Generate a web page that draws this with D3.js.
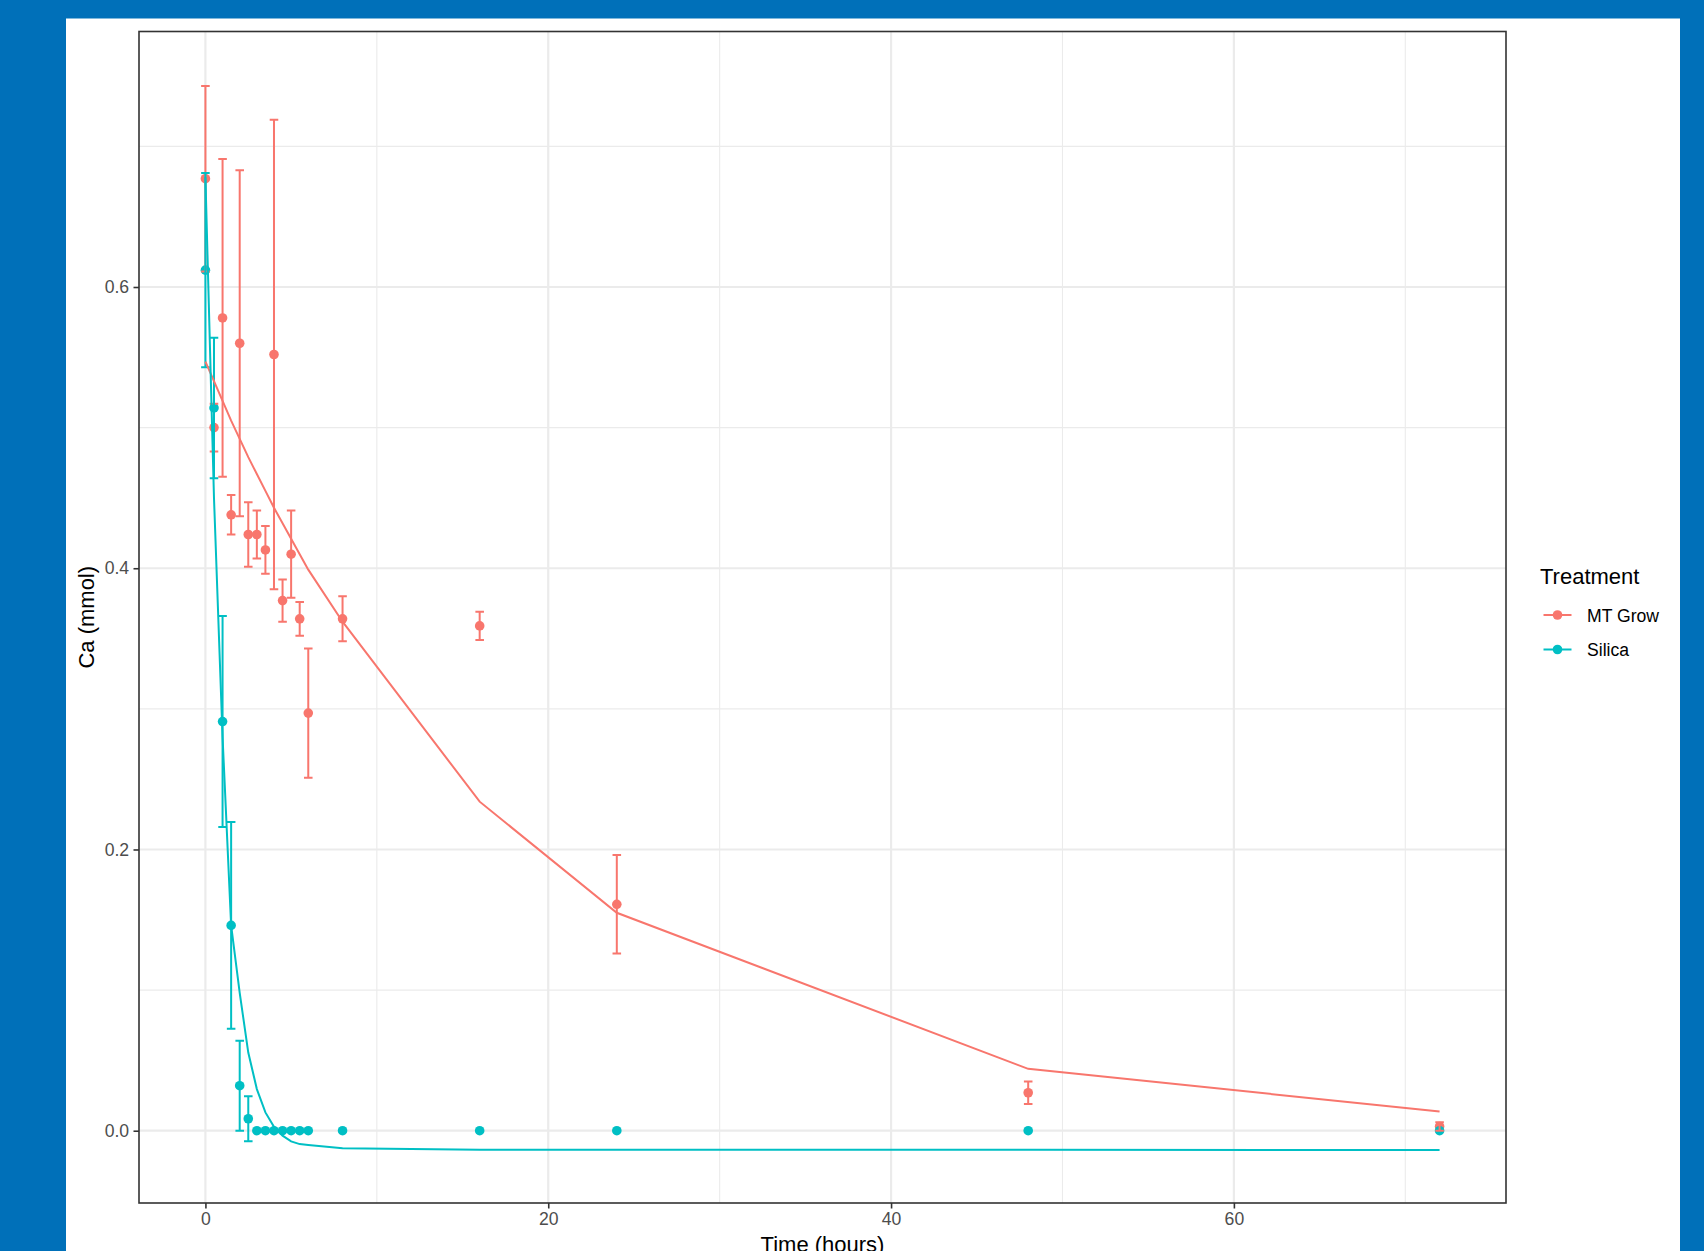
<!DOCTYPE html>
<html>
<head>
<meta charset="utf-8">
<script src="https://cdn.jsdelivr.net/npm/d3@7"></script>
<style>
  body { margin: 0; background: #0070b9; }
  svg { display: block; }
  text { font-family: "Liberation Sans", Arial, Helvetica, sans-serif; }
</style>
</head>
<body>
<div id="chart"></div>
<script>
// sampling times (hours)
const times = [0, 0.5, 1, 1.5, 2, 2.5, 3, 3.5, 4, 4.5, 5, 5.5, 6, 8, 16, 24, 48, 72];

// MT Grow: mean, error and fitted curve
const mtGrowMean = [0.677, 0.500, 0.578, 0.438, 0.560, 0.424, 0.424, 0.413, 0.552, 0.377, 0.410, 0.364, 0.297, 0.364, 0.359, 0.161, 0.027, 0.003];
const mtGrowErr  = [0.066, 0.017, 0.113, 0.014, 0.123, 0.023, 0.017, 0.017, 0.167, 0.015, 0.031, 0.012, 0.046, 0.016, 0.010, 0.035, 0.008, 0.003];
const mtGrowFit  = [0.547, 0.533, 0.519, 0.505, 0.492, 0.479, 0.467, 0.455, 0.443, 0.432, 0.421, 0.410, 0.399, 0.362, 0.234, 0.155, 0.044, 0.0137];

// Silica: mean, error and fitted curve
const silicaMean = [0.612, 0.514, 0.291, 0.146, 0.032, 0.0085, 0, 0, 0, 0, 0, 0, 0, 0, 0, 0, 0, 0];
const silicaErr  = [0.069, 0.050, 0.075, 0.0735, 0.032, 0.016, 0, 0, 0, 0, 0, 0, 0, 0, 0, 0, 0, 0];
const silicaFit  = [0.678, 0.450, 0.280, 0.146, 0.098, 0.0556, 0.0296, 0.013, 0.0028, -0.0035, -0.0076, -0.0095, -0.0102, -0.0125, -0.0135, -0.0135, -0.0136, -0.0137];

const treatments = ["MT Grow", "Silica"];
const colors = ["#F8766D", "#00BFC4"];

const xTicks = [0, 20, 40, 60];
const xMinor = [10, 30, 50, 70];
const yTicks = [0, 0.2, 0.4, 0.6];
const yMinor = [0.1, 0.3, 0.5, 0.7];

const width = 1704, height = 1251;
const panel = { left: 139, right: 1506, top: 31.5, bottom: 1203 };
const capHalf = 0.25; // errorbar half-width in hours

const series = [
    { name: treatments[0], color: colors[0], mean: mtGrowMean, err: mtGrowErr, fit: mtGrowFit },
    { name: treatments[1], color: colors[1], mean: silicaMean, err: silicaErr, fit: silicaFit }
];

const svg = d3.select("#chart").append("svg")
    .attr("width", width)
    .attr("height", height);

// blue page and white plot background
svg.append("rect").attr("width", width).attr("height", height).attr("fill", "#0070b9");
svg.append("rect")
    .attr("x", 66).attr("y", 18.5)
    .attr("width", 1680 - 66).attr("height", height)
    .attr("fill", "white");

const x = d3.scaleLinear().domain([-3.875, 75.875]).range([panel.left, panel.right]);
const y = d3.scaleLinear().domain([-0.0514, 0.7817]).range([panel.bottom, panel.top]);

// grid
const grid = svg.append("g");
grid.selectAll(".xminor").data(xMinor).enter().append("line")
    .attr("x1", d => x(d)).attr("x2", d => x(d))
    .attr("y1", panel.top).attr("y2", panel.bottom)
    .attr("stroke", "#ebebeb").attr("stroke-width", 1.1);
grid.selectAll(".yminor").data(yMinor).enter().append("line")
    .attr("y1", d => y(d)).attr("y2", d => y(d))
    .attr("x1", panel.left).attr("x2", panel.right)
    .attr("stroke", "#ebebeb").attr("stroke-width", 1.1);
grid.selectAll(".xmajor").data(xTicks).enter().append("line")
    .attr("x1", d => x(d)).attr("x2", d => x(d))
    .attr("y1", panel.top).attr("y2", panel.bottom)
    .attr("stroke", "#ebebeb").attr("stroke-width", 2.2);
grid.selectAll(".ymajor").data(yTicks).enter().append("line")
    .attr("y1", d => y(d)).attr("y2", d => y(d))
    .attr("x1", panel.left).attr("x2", panel.right)
    .attr("stroke", "#ebebeb").attr("stroke-width", 2.2);

// points
series.forEach(s => {
    svg.append("g").selectAll("circle")
        .data(times.map((t, i) => ({ t: t, v: s.mean[i] })))
        .enter().append("circle")
        .attr("cx", d => x(d.t))
        .attr("cy", d => y(d.v))
        .attr("r", 4.8)
        .attr("fill", s.color);
});

// error bars
series.forEach(s => {
    const bars = times.map((t, i) => ({ t: t, lo: s.mean[i] - s.err[i], hi: s.mean[i] + s.err[i] }))
        .filter((d, i) => s.err[i] > 0);
    const path = d => {
        const x0 = x(d.t - capHalf), x1 = x(d.t + capHalf), xc = x(d.t);
        return `M${x0},${y(d.hi)}H${x1}M${xc},${y(d.hi)}V${y(d.lo)}M${x0},${y(d.lo)}H${x1}`;
    };
    svg.append("g").selectAll("path")
        .data(bars)
        .enter().append("path")
        .attr("d", path)
        .attr("fill", "none")
        .attr("stroke", s.color)
        .attr("stroke-width", 2);
});

// fitted lines
const line = d3.line().x(d => x(d.t)).y(d => y(d.v));
series.forEach(s => {
    svg.append("path")
        .datum(times.map((t, i) => ({ t: t, v: s.fit[i] })))
        .attr("d", line)
        .attr("fill", "none")
        .attr("stroke", s.color)
        .attr("stroke-width", 2);
});

// panel border
svg.append("rect")
    .attr("x", panel.left).attr("y", panel.top)
    .attr("width", panel.right - panel.left).attr("height", panel.bottom - panel.top)
    .attr("fill", "none").attr("stroke", "#333333").attr("stroke-width", 1.6);

// axes
const yAxis = svg.append("g")
    .attr("transform", `translate(${panel.left},0)`)
    .call(d3.axisLeft(y).tickValues(yTicks).tickFormat(d3.format(".1f")).tickSize(5.5).tickPadding(4.4));
const xAxis = svg.append("g")
    .attr("transform", `translate(0,${panel.bottom})`)
    .call(d3.axisBottom(x).tickValues(xTicks).tickSize(5.5).tickPadding(4.4));

[xAxis, yAxis].forEach(a => {
    a.select(".domain").remove();
    a.selectAll(".tick line").attr("stroke", "#333333").attr("stroke-width", 1.6);
    a.selectAll(".tick text")
        .attr("fill", "#4d4d4d")
        .style("font-size", "17.6px")
        .style("font-family", "'Liberation Sans', Arial, sans-serif");
});

// axis titles
svg.append("text")
    .attr("x", (panel.left + panel.right) / 2)
    .attr("y", 1252)
    .attr("text-anchor", "middle")
    .attr("fill", "black")
    .style("font-size", "22px")
    .text("Time (hours)");

svg.append("text")
    .attr("transform", `translate(93.5,${(panel.top + panel.bottom) / 2}) rotate(-90)`)
    .attr("text-anchor", "middle")
    .attr("fill", "black")
    .style("font-size", "22px")
    .text("Ca (mmol)");

// legend
const legend = svg.append("g").attr("transform", "translate(1540,0)");
legend.append("text")
    .attr("x", 0).attr("y", 584.3)
    .attr("fill", "black")
    .style("font-size", "22px")
    .text("Treatment");

const keys = legend.selectAll(".key")
    .data(series)
    .enter().append("g")
    .attr("transform", (d, i) => `translate(0,${615 + i * 34.5})`);
keys.append("line")
    .attr("x1", 3.5).attr("x2", 31.5)
    .attr("stroke", d => d.color).attr("stroke-width", 2);
keys.append("circle")
    .attr("cx", 17.5).attr("r", 4.8)
    .attr("fill", d => d.color);
keys.append("text")
    .attr("x", 47).attr("y", 6.5)
    .attr("fill", "black")
    .style("font-size", "17.6px")
    .text(d => d.name);
</script>
</body>
</html>
